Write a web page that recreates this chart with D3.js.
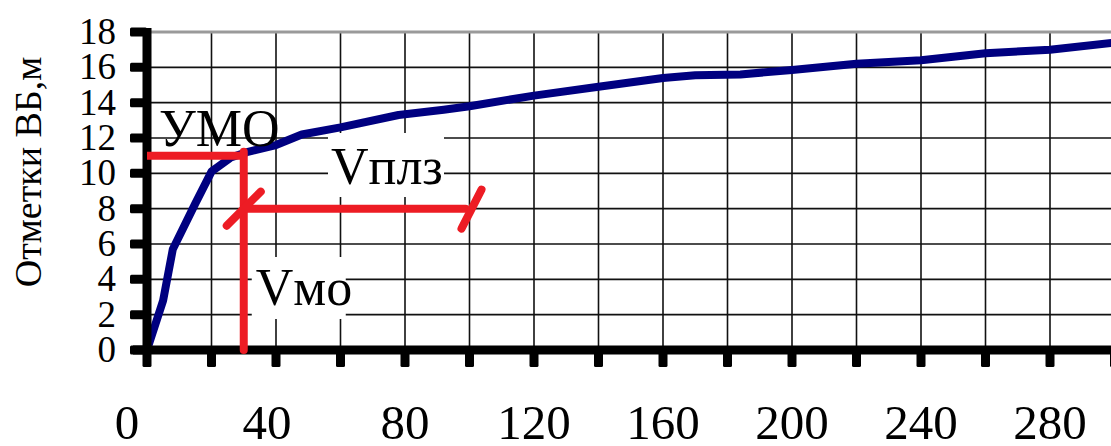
<!DOCTYPE html>
<html lang="ru">
<head>
  <meta charset="UTF-8">
  <title>Отметки ВБ</title>
  <script src="https://d3js.org/d3.v7.min.js"></script>
  <style>
    html, body {
      margin: 0;
      padding: 0;
      background: #fff;
      overflow: hidden;
    }
    svg {
      display: block;
      font-family: "Liberation Serif", "Times New Roman", serif;
    }
  </style>
</head>
<body>
<svg id="chart" width="1111" height="446"></svg>

<script>
  // volume (x) vs water level mark (y)
  const volumes = [0, 5, 8, 15, 20, 26, 31, 40, 48, 60, 78, 92, 100, 120, 140, 160, 170, 184, 200, 220, 240, 260, 280, 300];
  const levels  = [0, 2.8, 5.7, 8.3, 10.1, 10.9, 11.2, 11.6, 12.2, 12.6, 13.3, 13.6, 13.8, 14.4, 14.9, 15.4, 15.55, 15.6, 15.85, 16.2, 16.4, 16.8, 17.0, 17.4];

  const xTickLabels = [0, 40, 80, 120, 160, 200, 240, 280];
  const yTickLabels = [0, 2, 4, 6, 8, 10, 12, 14, 16, 18];

  // annotation values
  const umoLevel = 11;     // УМО
  const vmoVolume = 30;    // Vмо
  const vplzLevel = 8;     // Vплз line height
  const vplzEnd = 100;     // Vплз right end

  const svg = d3.select("#chart");

  const x = d3.scaleLinear().domain([0, 300]).range([147, 1114.5]);
  const y = d3.scaleLinear().domain([0, 18]).range([350, 32]);

  // grid
  const grid = svg.append("g");
  grid.selectAll("line.v")
          .data(d3.range(20, 301, 20))
          .join("line")
          .attr("x1", d => x(d)).attr("x2", d => x(d))
          .attr("y1", y(18)).attr("y2", y(0))
          .attr("stroke", "#111")
          .attr("stroke-width", 1.6);
  grid.selectAll("line.h")
          .data(d3.range(2, 17, 2))
          .join("line")
          .attr("x1", x(0)).attr("x2", 1111)
          .attr("y1", d => y(d)).attr("y2", d => y(d))
          .attr("stroke", "#111")
          .attr("stroke-width", 1.6);
  grid.append("line")
          .attr("x1", x(0)).attr("x2", 1111)
          .attr("y1", y(18)).attr("y2", y(18))
          .attr("stroke", "#9a9a9a")
          .attr("stroke-width", 3);

  // label backgrounds
  svg.append("rect")
          .attr("x", 328).attr("y", 133).attr("width", 116).attr("height", 64)
          .attr("fill", "#fff");
  svg.append("rect")
          .attr("x", x(vmoVolume) + 8).attr("y", 257).attr("width", 94).attr("height", 62)
          .attr("fill", "#fff");

  // curve
  const pts = volumes.map((v, i) => [v, levels[i]]);
  svg.append("path")
          .datum(pts)
          .attr("d", d3.line().x(d => x(d[0])).y(d => y(d[1])))
          .attr("fill", "none")
          .attr("stroke", "#000080")
          .attr("stroke-width", 8)
          .attr("stroke-linejoin", "round");

  // axes (thick)
  const axes = svg.append("g").attr("fill", "#000");
  axes.append("line")
          .attr("x1", x(0)).attr("x2", x(0))
          .attr("y1", y(18) - 4).attr("y2", y(0) + 4)
          .attr("stroke", "#000").attr("stroke-width", 9);
  axes.append("line")
          .attr("x1", 133).attr("x2", 1111)
          .attr("y1", y(0)).attr("y2", y(0))
          .attr("stroke", "#000").attr("stroke-width", 9);
  axes.selectAll("rect.yt")
          .data(yTickLabels)
          .join("rect")
          .attr("x", 130).attr("y", d => y(d) - 4.5)
          .attr("width", 17).attr("height", 9).attr("rx", 1.5);
  axes.selectAll("rect.xt")
          .data(d3.range(0, 301, 20))
          .join("rect")
          .attr("x", d => x(d) - 4.5).attr("y", y(0))
          .attr("width", 9).attr("height", 17).attr("rx", 1.5);

  // tick labels
  svg.append("g").selectAll("text")
          .data(yTickLabels)
          .join("text")
          .attr("x", 116)
          .attr("y", d => y(d) + 12)
          .attr("text-anchor", "end")
          .attr("font-size", 37)
          .text(d => d);
  svg.append("g").selectAll("text")
          .data(xTickLabels)
          .join("text")
          .attr("x", d => x(d) - (d === 0 ? 20 : d === 40 ? 9 : 0))
          .attr("y", 439)
          .attr("text-anchor", "middle")
          .attr("font-size", 49)
          .text(d => d);

  svg.append("text")
          .attr("transform", "translate(41,172) rotate(-90)")
          .attr("text-anchor", "middle")
          .attr("font-size", 38)
          .text("Отметки ВБ,м");

  // red annotations
  const red = "#ed1c24";
  const ann = svg.append("g")
          .attr("stroke", red)
          .attr("stroke-width", 8)
          .attr("stroke-linecap", "round");
  ann.append("line")
          .attr("x1", x(0)).attr("x2", x(vmoVolume))
          .attr("y1", y(umoLevel)).attr("y2", y(umoLevel))
          .attr("stroke-linecap", "butt");
  ann.append("line")
          .attr("x1", x(vmoVolume)).attr("x2", x(vmoVolume))
          .attr("y1", y(umoLevel) - 4).attr("y2", y(0));
  ann.append("line")
          .attr("x1", x(vmoVolume)).attr("x2", x(vplzEnd) - 4)
          .attr("y1", y(vplzLevel)).attr("y2", y(vplzLevel));
  ann.append("line")
          .attr("x1", x(vmoVolume) - 17).attr("x2", x(vmoVolume) + 17)
          .attr("y1", y(vplzLevel) + 17).attr("y2", y(vplzLevel) - 17);
  ann.append("line")
          .attr("x1", x(vplzEnd) - 8).attr("x2", x(vplzEnd) + 12)
          .attr("y1", y(vplzLevel) + 20).attr("y2", y(vplzLevel) - 19);

  // annotation labels
  svg.append("text")
          .attr("x", 159).attr("y", 146)
          .attr("font-size", 52)
          .text("УМО");
  svg.append("text")
          .attr("x", 331).attr("y", 184)
          .attr("font-size", 52)
          .text("Vплз");
  svg.append("text")
          .attr("x", x(vmoVolume) + 12).attr("y", 305)
          .attr("font-size", 52)
          .text("Vмо");
</script>
</body>
</html>
